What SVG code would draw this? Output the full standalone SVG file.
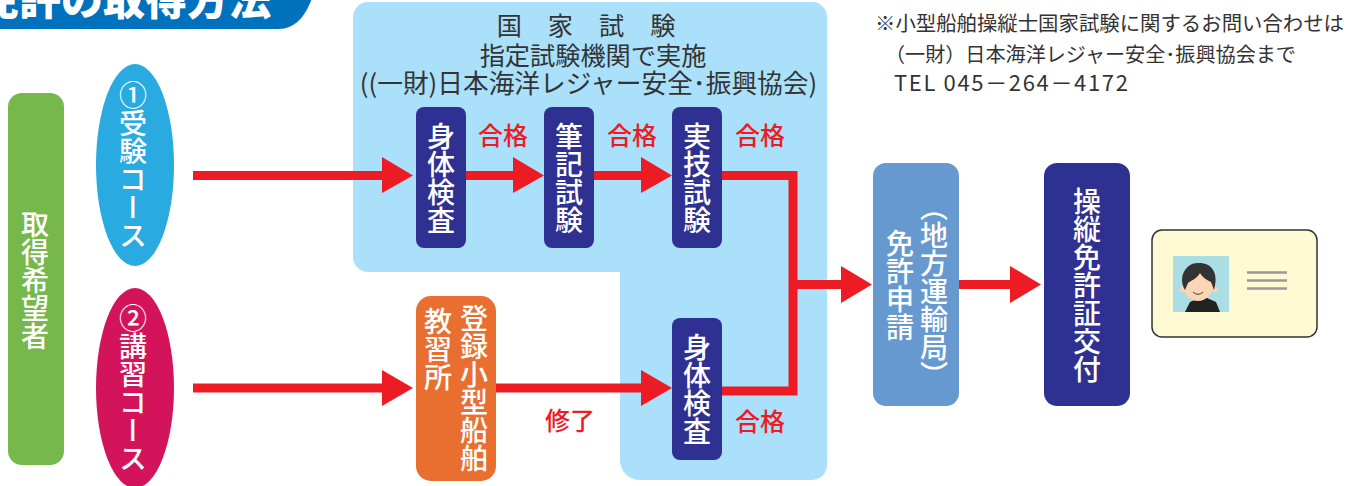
<svg xmlns="http://www.w3.org/2000/svg" width="1371" height="486" viewBox="0 0 1371 486">
<style>
text{font-family:"Noto Sans CJK JP","Noto Sans",sans-serif}
.v{writing-mode:vertical-rl;fill:#fff;font-size:28px;font-weight:500;text-anchor:middle}
.note{font-size:20.400px;fill:#333}
.head{font-size:25.200px;fill:#333;text-anchor:middle}
.red{font-size:25px;fill:#ed1c24;font-weight:500;text-anchor:middle}
.dark{fill:#2e3192}
.ln{fill:none;stroke:#ed1c24;stroke-width:9}
.ah{fill:#ed1c24}
</style>
<g id="title"><path d="M0,-2H312C306,15 296,29 278,29H0Z" fill="#0071bc"/><text x="-23" y="15" font-size="42" font-weight="900" fill="#fff">免許の取得方法</text></g>
<g id="exam-area"><path d="M368,2H812a15,15 0 0 1 15,15V465a15,15 0 0 1-15,15H640a20,20 0 0 1-20-20V272H368a15,15 0 0 1-15-15V17a15,15 0 0 1 15-15Z" fill="#aae0fa"/>
<text class="head" x="599" y="35" letter-spacing="26">国家試験</text><text class="head" x="593" y="65">指定試験機関で実施</text><text class="head" x="588.500" y="93" style="font-size:25.700px">((一財)日本海洋レジャー安全･振興協会)</text></g>
<g id="connectors">
<path class="ln" d="M193,175.500H385M466,175.500H515M594,175.500H643M193,388H385M496,388H643M722,175.500H793V391H722M793,284.500H843M959,284.500H1012"/>
<path class="ah" d="M382,157L413,175.500L382,193ZM513,157L544,175.500L513,193ZM641,157L672,175.500L641,193ZM382,370L413,388L382,406ZM641,370L672,388L641,406ZM841,266L872,284.500L841,303ZM1010,266L1041,284.500L1010,303Z"/>
</g>
<g id="applicant"><rect x="8" y="93" width="56" height="372" rx="14" fill="#76b84b"/><text class="v" x="35" y="280">取得希望者</text></g>
<g id="course1"><ellipse cx="135" cy="165" rx="39" ry="101" fill="#29abe2"/><text class="v" x="133" y="165">①受験コース</text></g>
<g id="course2"><ellipse cx="135" cy="388" rx="39" ry="100" fill="#d4145a"/><text class="v" x="133" y="388">②講習コース</text></g>
<g id="exam1"><rect class="dark" x="416" y="107" width="50" height="141" rx="8"/><text class="v" x="441" y="178">身体検査</text></g>
<g id="exam2"><rect class="dark" x="544" y="107" width="50" height="141" rx="8"/><text class="v" x="569" y="178">筆記試験</text></g>
<g id="exam3"><rect class="dark" x="672" y="107" width="50" height="141" rx="8"/><text class="v" x="697" y="178">実技試験</text></g>
<g id="exam4"><rect class="dark" x="672" y="318" width="50" height="142" rx="8"/><text class="v" x="697" y="389">身体検査</text></g>
<g id="school"><rect x="416" y="296" width="80" height="185" rx="15" fill="#e96f31"/><text class="v" x="474" y="388">登録小型船舶</text><text class="v" x="438" y="349">教習所</text></g>
<g id="apply"><rect x="873" y="163" width="86" height="243" rx="13" fill="#6699d0"/><text class="v" x="934" y="291">（地方運輸局）</text><text class="v" x="900" y="285">免許申請</text></g>
<g id="issue"><rect class="dark" x="1044" y="163" width="86" height="243" rx="13"/><text class="v" x="1087" y="285">操縦免許証交付</text></g>
<g id="labels"><text class="red" x="503" y="145">合格</text><text class="red" x="632" y="145">合格</text><text class="red" x="760" y="145">合格</text><text class="red" x="570" y="430">修了</text><text class="red" x="760" y="431">合格</text></g>
<g id="card"><rect x="1152" y="230" width="165" height="107" rx="10" fill="#fffad4" stroke="#333" stroke-width="1.500"/>
<rect x="1173" y="256" width="56" height="56" fill="#abdde5"/>
<path d="M1185,312l5-10 9-4h8l9,4 4,10Z" fill="#222"/><circle cx="1183" cy="289" r="3" fill="#fbd5b5"/><circle cx="1214" cy="289" r="3" fill="#fbd5b5"/><ellipse cx="1198" cy="285" rx="15" ry="16" fill="#fbd5b5"/><path d="M1185,290c-8-14 2-28 14-27 13 0 20 10 15 27l-3-8c-4-2-8-4-11-9-3 6-10 8-12 10Z" fill="#333"/><path d="M1193,292c3,3 7,3 10,0" fill="none" stroke="#333"/>
<path d="M1247,272.500h40M1247,280.500h40M1247,288.500h40" stroke="#999" stroke-width="2.500"/></g>
<g id="note"><text class="note" x="875" y="31">※小型船舶操縦士国家試験に関するお問い合わせは</text><text class="note" x="885" y="62" style="font-size:20.100px">（一財）日本海洋レジャー安全･振興協会まで</text><text class="note" x="894" y="91" style="font-size:22px;letter-spacing:1.650px">TEL 045－264－4172</text></g>
</svg>
